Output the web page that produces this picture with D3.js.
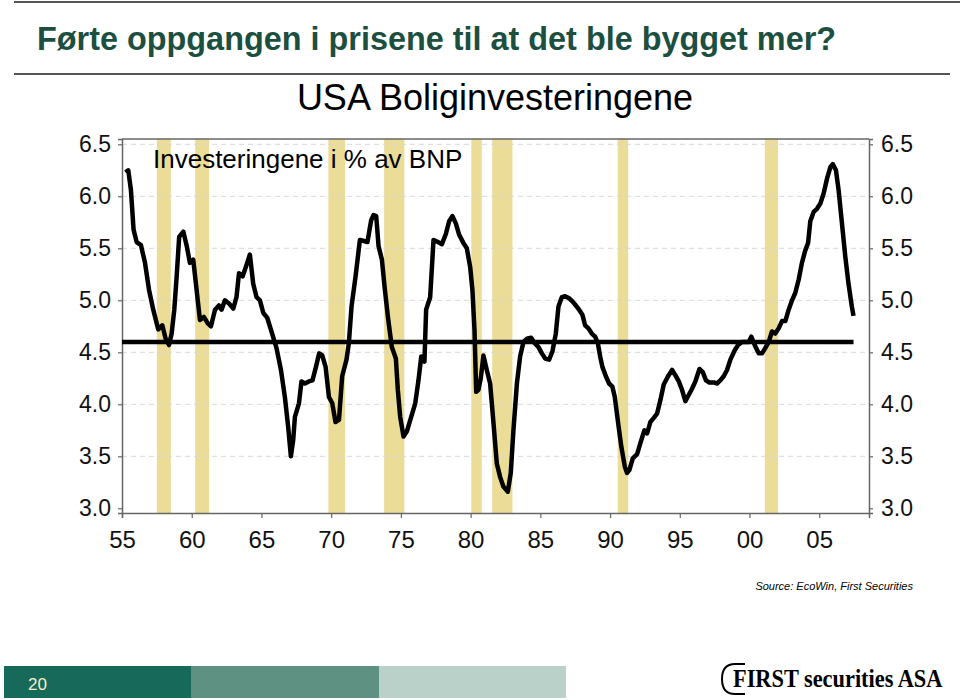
<!DOCTYPE html>
<html><head><meta charset="utf-8">
<script src="https://cdn.jsdelivr.net/npm/d3@7"></script>
<style>
html,body{margin:0;padding:0;background:#fff;}
svg{display:block;font-family:"Liberation Sans",Arial,Helvetica,sans-serif;}
</style></head>
<body>
<svg id="chart" width="960" height="700"></svg>
<script>
// ---- data ----
const title = "Førte oppgangen i prisene til at det ble bygget mer?";
const subtitle = "USA Boliginvesteringene";
const seriesLabel = "Investeringene i % av BNP";
const sourceText = "Source: EcoWin, First Securities";
const pageNumber = "20";
const logoText = "FIRST securities ASA";

const years = [
1955.26,1955.45,1955.64,1955.83,1956.05,1956.36,1956.65,1956.94,1957.24,1957.6,1957.89,1958.13,1958.37,1958.56,1958.75,1958.92,
1959.1,1959.4,1959.63,1959.87,1960.11,1960.35,1960.59,1960.87,1961.14,1961.38,1961.67,1961.95,1962.14,1962.38,1962.67,1962.98,
1963.21,1963.39,1963.65,1963.93,1964.17,1964.41,1964.65,1964.89,1965.13,1965.42,1965.72,1966.08,1966.4,1966.68,1966.92,1967.11,
1967.28,1967.4,1967.69,1967.87,1968.12,1968.4,1968.66,1968.91,1969.14,1969.36,1969.6,1969.84,1970.08,1970.31,1970.56,1970.79,
1971.1,1971.27,1971.46,1971.75,1972.06,1972.35,1972.6,1972.87,1973.04,1973.23,1973.4,1973.64,1973.83,1974.07,1974.35,1974.64,
1974.78,1974.95,1975.19,1975.43,1975.74,1976.03,1976.26,1976.46,1976.69,1976.81,1977.1,1977.34,1977.66,1977.94,1978.23,1978.46,
1978.7,1978.94,1979.18,1979.49,1979.73,1979.97,1980.13,1980.28,1980.4,1980.56,1980.73,1980.92,1981.16,1981.4,1981.64,1981.88,
1982.12,1982.35,1982.67,1982.88,1983.07,1983.32,1983.55,1983.79,1984.03,1984.34,1984.58,1984.87,1985.11,1985.35,1985.63,1985.87,
1986.11,1986.3,1986.54,1986.78,1987.06,1987.3,1987.55,1987.78,1988.02,1988.21,1988.45,1988.69,1988.93,1989.12,1989.29,1989.45,
1989.7,1989.93,1990.17,1990.34,1990.58,1990.81,1991.06,1991.22,1991.39,1991.63,1991.94,1992.18,1992.46,1992.66,1992.89,1993.14,
1993.37,1993.61,1993.85,1994.16,1994.45,1994.68,1994.93,1995.16,1995.4,1995.64,1995.88,1996.12,1996.41,1996.65,1996.88,1997.12,
1997.44,1997.67,1997.91,1998.15,1998.39,1998.63,1998.94,1999.18,1999.46,1999.7,1999.94,2000.13,2000.37,2000.66,2000.9,2001.13,
2001.38,2001.61,2001.85,2002.09,2002.33,2002.57,2002.81,2003.05,2003.28,2003.53,2003.76,2004.0,2004.2,2004.36,2004.6,2004.84,
2005.08,2005.32,2005.56,2005.8,2005.97,2006.2,2006.39,2006.63,2006.87,2007.1,2007.34,2007.46];

const investment = [
6.23,6.25,6.06,5.68,5.56,5.53,5.36,5.10,4.91,4.72,4.76,4.63,4.57,4.68,4.91,5.23,
5.61,5.66,5.53,5.36,5.39,5.10,4.81,4.84,4.78,4.75,4.91,4.95,4.91,5.00,4.97,4.92,
5.03,5.26,5.23,5.34,5.44,5.16,5.03,5.00,4.88,4.83,4.70,4.54,4.33,4.07,3.78,3.50,
3.66,3.88,4.01,4.22,4.20,4.22,4.23,4.36,4.49,4.47,4.36,4.07,4.01,3.83,3.85,4.27,
4.43,4.59,4.94,5.23,5.58,5.57,5.56,5.77,5.82,5.81,5.52,5.39,5.13,4.84,4.55,4.44,
4.14,3.88,3.69,3.74,3.88,4.01,4.23,4.46,4.41,4.91,5.03,5.58,5.56,5.54,5.64,5.76,
5.81,5.74,5.63,5.55,5.50,5.32,5.10,4.71,4.12,4.14,4.25,4.47,4.33,4.20,3.82,3.43,
3.30,3.21,3.16,3.34,3.75,4.20,4.46,4.60,4.63,4.64,4.59,4.55,4.49,4.44,4.43,4.51,
4.68,4.94,5.03,5.04,5.02,4.99,4.95,4.91,4.86,4.76,4.73,4.68,4.65,4.59,4.46,4.36,
4.27,4.20,4.17,4.07,3.82,3.59,3.40,3.34,3.37,3.48,3.52,3.63,3.75,3.72,3.83,3.87,
3.91,4.04,4.19,4.27,4.33,4.28,4.22,4.14,4.03,4.09,4.15,4.22,4.34,4.31,4.23,4.21,
4.21,4.20,4.23,4.27,4.33,4.43,4.52,4.57,4.60,4.60,4.60,4.65,4.57,4.49,4.49,4.54,
4.60,4.70,4.68,4.73,4.80,4.80,4.91,5.00,5.07,5.20,5.36,5.48,5.55,5.76,5.85,5.88,
5.93,6.03,6.17,6.28,6.31,6.25,6.06,5.74,5.42,5.16,4.94,4.85];

const averageValue = 4.60;
const averageRange = [1955.0, 2007.46];

const recessionStart = [1957.5, 1960.25, 1969.8, 1973.8, 1980.05, 1981.55, 1990.55, 2001.1];
const recessionEnd   = [1958.5, 1961.25, 1971.0, 1975.25, 1980.8, 1983.0, 1991.3, 2002.05];

const yTicks = [3.0, 3.5, 4.0, 4.5, 5.0, 5.5, 6.0, 6.5];
const xTicks = [1955, 1960, 1965, 1970, 1975, 1980, 1985, 1990, 1995, 2000, 2005];

// ---- layout ----
const svg = d3.select("#chart");
const L = 122, R = 869, T = 139, B = 513;
const x = d3.scaleLinear().domain([1955.0, 2008.57]).range([L, R]);
const y = d3.scaleLinear().domain([2.955, 6.551]).range([B, T]);

// header
svg.append("line").attr("x1",14).attr("x2",960).attr("y1",2).attr("y2",2).attr("stroke","#555").attr("stroke-width",2);
svg.append("text").attr("x",37).attr("y",50).attr("font-size",32.4).attr("font-weight","bold")
  .attr("fill","#1c4f3f").text(title);
svg.append("line").attr("x1",14).attr("x2",950).attr("y1",74).attr("y2",74).attr("stroke","#555").attr("stroke-width",2);
svg.append("text").attr("x",495).attr("y",110).attr("text-anchor","middle").attr("font-size",36)
  .attr("fill","#000").text(subtitle);

// recession bands
const bands = recessionStart.map((s,i)=>({s, e: recessionEnd[i]}));
svg.append("g").selectAll("rect").data(bands).join("rect")
  .attr("x", d=>x(d.s)).attr("width", d=>x(d.e)-x(d.s))
  .attr("y", T).attr("height", B-T).attr("fill","#ebdc97");

// gridlines
svg.append("g").selectAll("line").data(yTicks.slice(1)).join("line")
  .attr("x1", L).attr("x2", R).attr("y1", d=>y(d)).attr("y2", d=>y(d))
  .attr("stroke","#d8d8d8").attr("stroke-width",1).attr("stroke-dasharray","5,4");

// frame top
svg.append("line").attr("x1",L).attr("x2",R).attr("y1",T).attr("y2",T).attr("stroke","#666").attr("stroke-width",1.5);

// axes
const fmtY = d3.format(".1f");
const axL = svg.append("g").attr("transform",`translate(${L},0)`)
  .call(d3.axisLeft(y).tickValues(yTicks).tickFormat(fmtY).tickSize(4).tickPadding(7));
const axR = svg.append("g").attr("transform",`translate(${R},0)`)
  .call(d3.axisRight(y).tickValues(yTicks).tickFormat(fmtY).tickSize(4).tickPadding(8));
const axB = svg.append("g").attr("transform",`translate(0,${B})`)
  .call(d3.axisBottom(x).tickValues(xTicks).tickFormat(d=>String(d%100).padStart(2,"0")).tickSize(5).tickPadding(13));
[axL,axR,axB].forEach(g=>{
  g.select(".domain").attr("stroke","#666").attr("stroke-width",1.5);
  g.selectAll(".tick line").attr("stroke","#666").attr("stroke-width",1.2);
  g.selectAll("text").attr("font-family","Liberation Sans, Arial, sans-serif").attr("font-size",23).attr("fill","#111");
});
axB.selectAll("text").attr("font-size",24);

// series label
svg.append("text").attr("x",153).attr("y",168).attr("font-size",26).attr("fill","#000").text(seriesLabel);

// average line
svg.append("line").attr("x1", x(averageRange[0])).attr("x2", x(averageRange[1]))
  .attr("y1", y(averageValue)).attr("y2", y(averageValue))
  .attr("stroke","#000").attr("stroke-width",4.5);

// main series
const pts = years.map((yr,i)=>[yr, investment[i]]);
svg.append("path").datum(pts)
  .attr("d", d3.line().x(d=>x(d[0])).y(d=>y(d[1])))
  .attr("fill","none").attr("stroke","#000").attr("stroke-width",4.5).attr("stroke-linejoin","round");

// source
svg.append("text").attr("x",913).attr("y",590).attr("text-anchor","end").attr("font-size",11)
  .attr("font-style","italic").attr("fill","#000").text(sourceText);

// footer bars
const footerColors = ["#17695a","#5f9183","#b9d1c9"];
const footerStarts = [4,191,379];
const footerEnds = [191,379,566];
svg.append("g").selectAll("rect").data(footerColors).join("rect")
  .attr("x",(d,i)=>footerStarts[i]).attr("width",(d,i)=>footerEnds[i]-footerStarts[i])
  .attr("y",666).attr("height",32).attr("fill",d=>d);
svg.append("text").attr("x",28).attr("y",690).attr("font-size",17).attr("fill","#f3f1c8").text(pageNumber);

// logo
svg.append("path").attr("d","M745,664 L735,664 Q722,664 722,679 Q722,694 735,694 L745,694")
  .attr("fill","none").attr("stroke","#000").attr("stroke-width",2);
svg.append("g").attr("transform","translate(733,687) scale(0.86,1)")
  .append("text").attr("x",0).attr("y",0).attr("font-family","Liberation Serif, Times New Roman, serif")
  .attr("font-weight","bold").attr("font-size",26)
  .attr("fill","#000").text(logoText);
</script>
</body></html>
